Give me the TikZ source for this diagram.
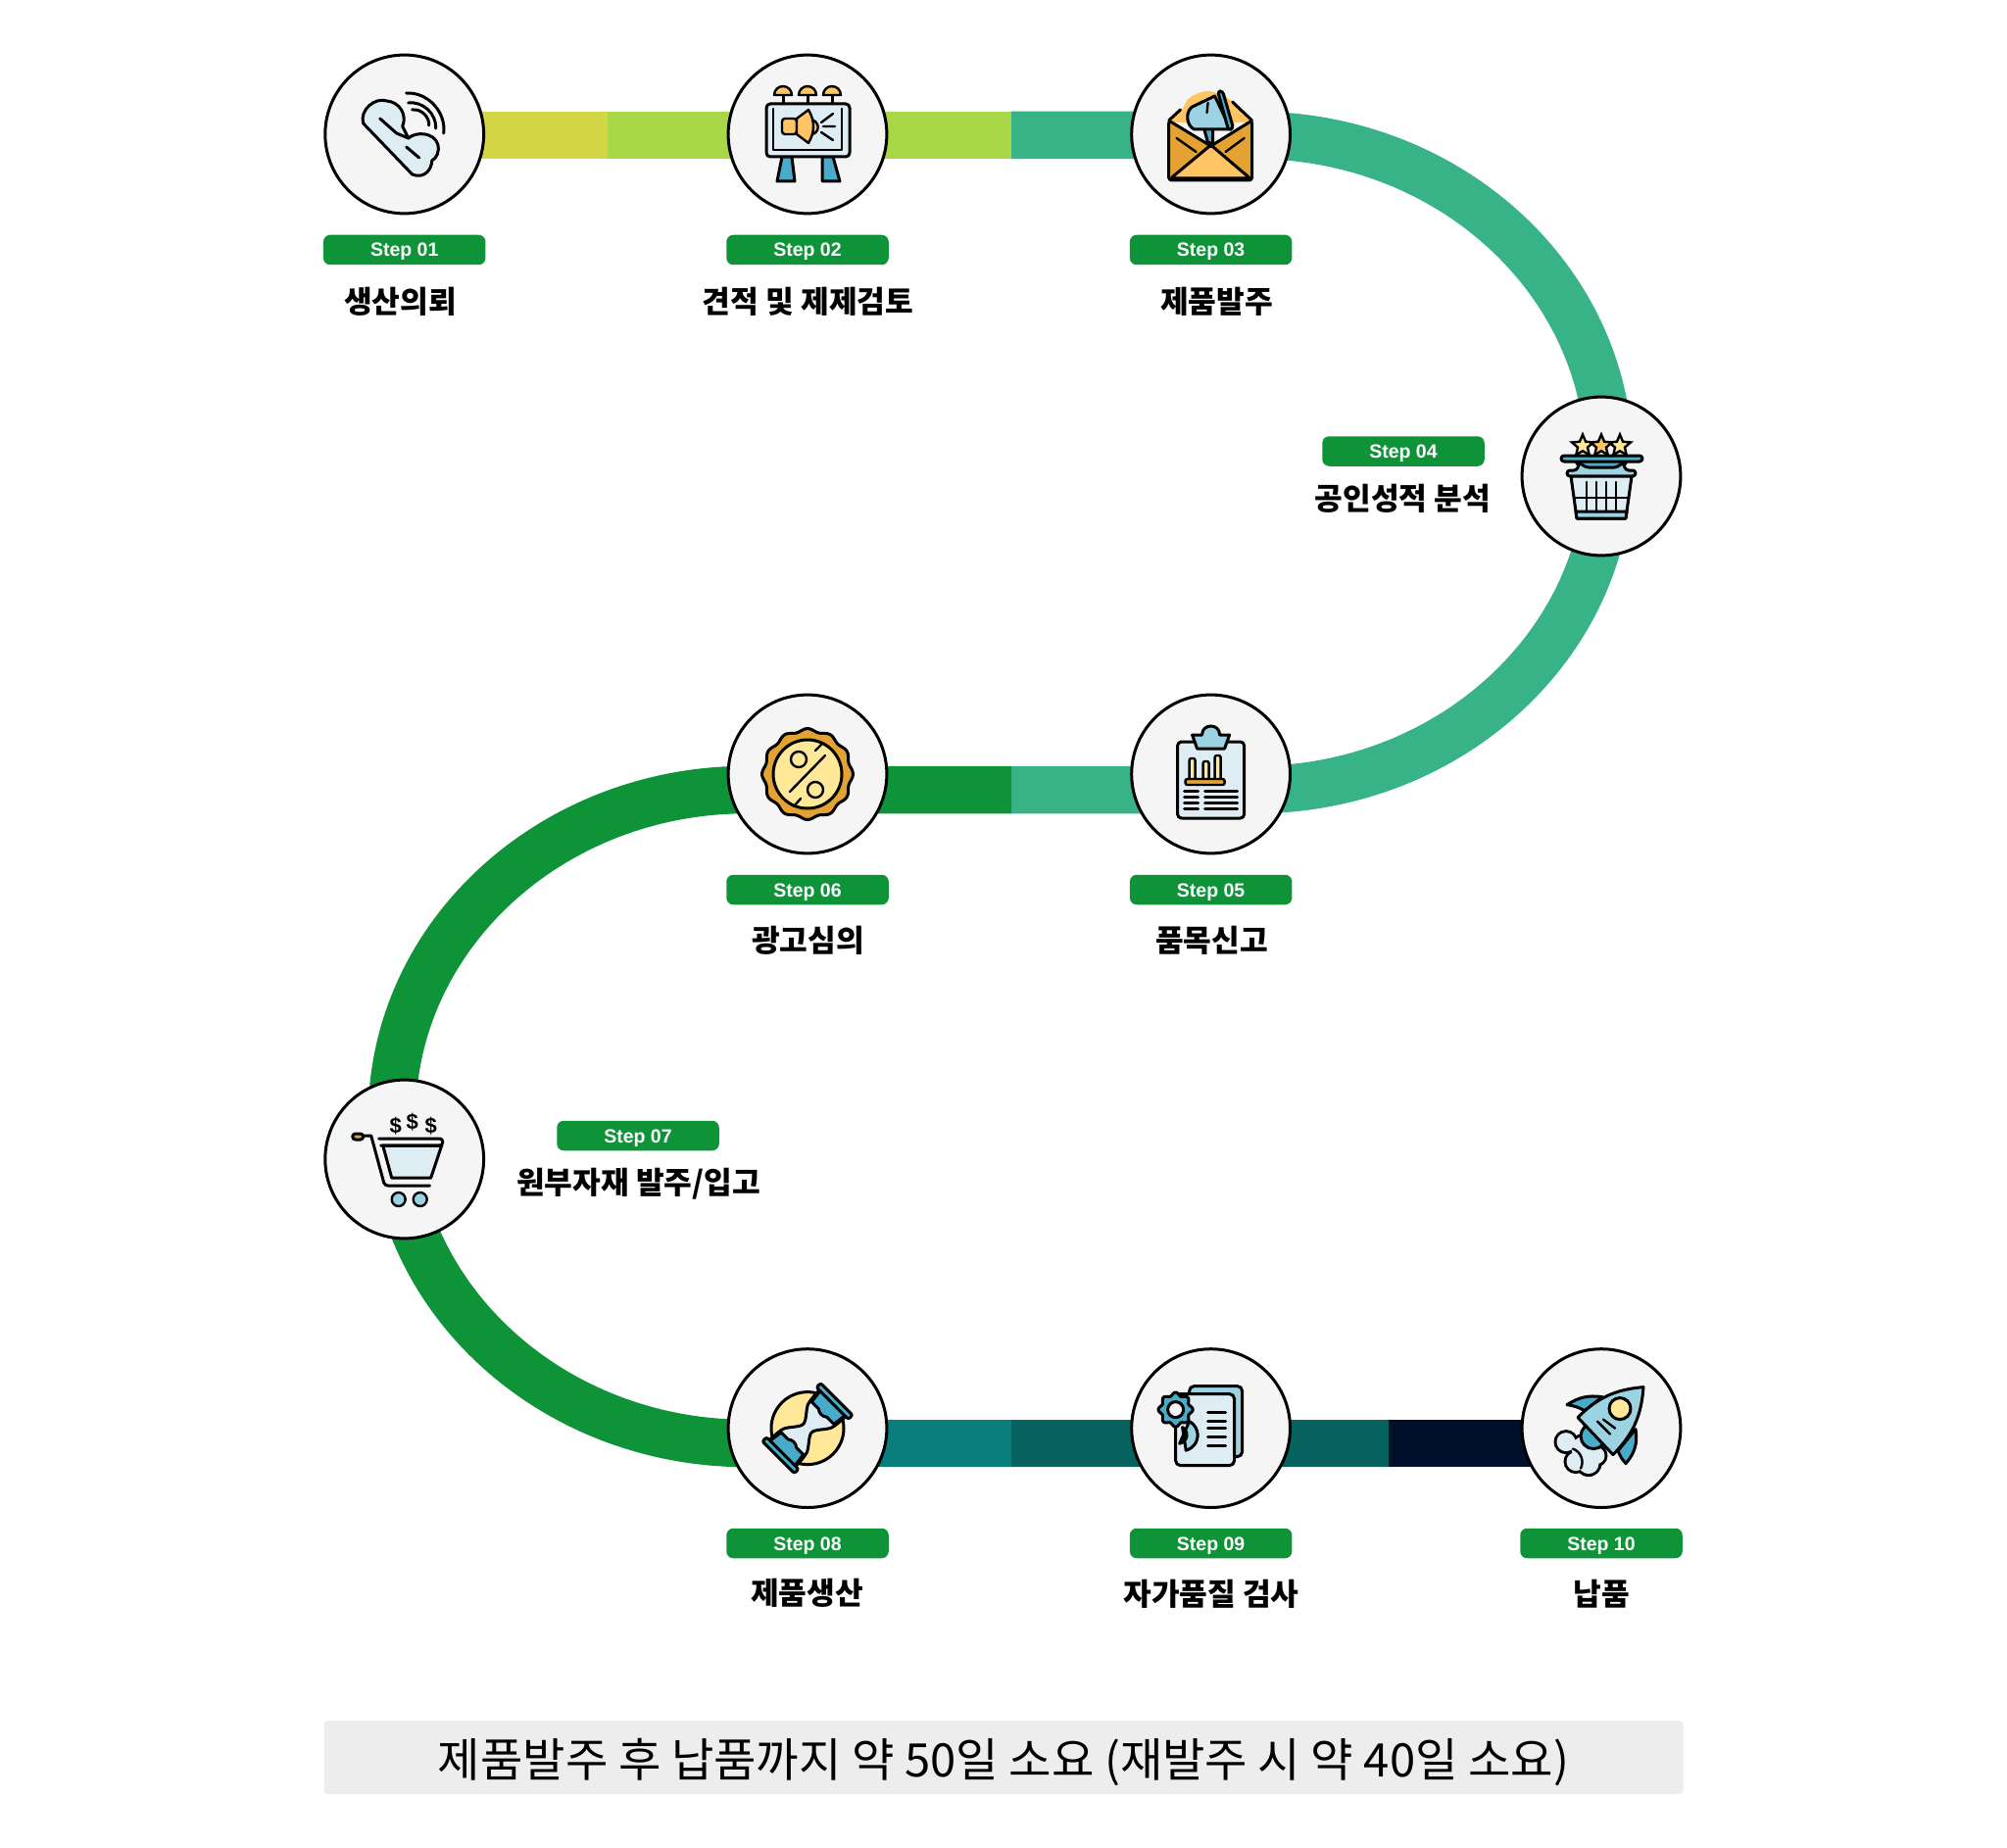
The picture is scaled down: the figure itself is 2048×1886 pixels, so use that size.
\documentclass[tikz,border=0pt]{standalone}
\usepackage{fontspec}
\setmainfont{Noto Sans CJK KR}
\newfontfamily\stepfont{Liberation Sans}
\usetikzlibrary{shapes.geometric}
\definecolor{bandyel}{HTML}{D3D647}
\definecolor{bandlime}{HTML}{A8D848}
\definecolor{bandmint}{HTML}{38B287}
\definecolor{bandgrn}{HTML}{0E9338}
\definecolor{bandtea}{HTML}{0A7D7D}
\definecolor{banddkt}{HTML}{05625F}
\definecolor{bandnav}{HTML}{000F2A}
\definecolor{lb}{HTML}{DEECF3}
\definecolor{mb}{HTML}{9BD3E3}
\definecolor{db}{HTML}{47ABC9}
\definecolor{og}{HTML}{FFC463}
\definecolor{dg}{HTML}{E3A231}
\definecolor{yl}{HTML}{FFE998}
\tikzset{
  band/.style={line width=48.5pt,draw=#1},
  stepcirc/.style={circle,draw=black,line width=3pt,fill=black!4,minimum size=161.8pt,inner sep=0pt},
  stepbox/.style={rounded corners=7pt,fill=bandgrn,text=white,minimum width=165.5pt,minimum height=30.5pt,inner sep=0pt,text height=14pt,text depth=0pt,font=\stepfont\fontsize{19.5}{21}\selectfont\bfseries},
  steplab/.style={inner sep=0pt,font=\fontsize{31.2}{33}\selectfont\bfseries},
  ic/.style={draw=black,line width=3pt,line join=round,line cap=round},
  thinic/.style={ic,line width=2.4pt},
  dollar/.style={inner sep=0pt,font=\stepfont\fontsize{22}{23}\selectfont\bfseries},
}
\begin{document}
\begin{tikzpicture}[x=1pt,y=1pt]
  \useasboundingbox (0,0) rectangle (2048,-1886);
  % band
  \coordinate (a1) at (413,-138);
  \coordinate (a2) at (620,-138);
  \coordinate (a3) at (1032,-138);
  \coordinate (a4) at (1280,-138);
  \coordinate (a6) at (1032,-806);
  \coordinate (a7) at (762,-806);
  \coordinate (a9) at (824,-1473);
  \coordinate (a10) at (1032,-1473);
  \coordinate (a11) at (1417,-1473);
  \coordinate (a12) at (1634,-1473);
  \draw[band=bandyel] (a1) -- (a2);
  \draw[band=bandlime] (a2) -- (a3);
  \draw[band=bandmint] (a3) -- (a4) arc[start angle=90,end angle=-90,x radius=362,y radius=334] -- (a6);
  \draw[band=bandgrn] (a6) -- (a7) arc[start angle=90,end angle=270,x radius=362,y radius=333.5] -- (a9);
  \draw[band=bandtea] (a9) -- (a10);
  \draw[band=banddkt] (a10) -- (a11);
  \draw[band=bandnav] (a11) -- (a12);
  % steps
  \foreach \n/\x/\y/\px/\py/\lx/\ly/\t in {
    01/412.7/137/412.7/255/408.5/307.8/{생산의뢰},
    02/824/137/824/255/824.5/307.8/{견적 및 제제검토},
    03/1235.6/137/1235.6/255/1241.5/307.8/{제품발주},
    04/1634/486/1432/460.5/1431.5/509/{공인성적 분석},
    05/1235.6/790/1235.6/908/1236.5/959.5/{품목신고},
    06/824/790/824/908/824.5/959.5/{광고심의},
    07/412.7/1183/651/1159/651.5/1208/{원부자재 발주/입고},
    08/824/1457.6/824/1575/823.5/1625.5/{제품생산},
    09/1235.6/1457.6/1235.6/1575/1236/1627/{자가품질 검사},
    10/1634/1457.6/1634/1575/1634.5/1627/{납품}}{
    \node[stepcirc] (c\n) at (\x,-\y) {};
    \node[stepbox] (s\n) at (\px,-\py) {Step \n};
    \node[steplab] (l\n) at (\lx,-\ly) {\t};
  }
  \node[fill=black!7,rounded corners=4pt,minimum width=1387pt,minimum height=75pt,inner sep=0pt,text height=39pt,text depth=0pt,font=\fontsize{47.2}{49}\selectfont] (note) at (1024,-1793.5) {제품발주 후 납품까지 약 50일 소요 (재발주 시 약 40일 소요)};
  % phone
  \begin{scope}[shift={(c01.center)}]
    \draw[ic,fill=lb] (-42,11) .. controls (-46,25) and (-30,38) .. (-18,34) .. controls (-5,33) and (3,20) .. (-2,8) -- (4,-4) .. controls (12,3) and (30,2) .. (34,-10) .. controls (36,-18) and (33,-24) .. (28,-27) .. controls (28,-36) and (20,-46) .. (8,-41) -- cycle;
    \draw[ic] (-25,16) -- (-8,1) -- (4,-4) (2,-13) -- (15,-24);
    \draw[ic] (2,42) to[bend left=50] (40,1) (4,32) to[bend left=50] (32,6) (8,25) to[bend left=50] (25,9);
  \end{scope}
  % billboard
  \begin{scope}[shift={(c02.center)}]
    \foreach \x in {-25,0,25}{
      \draw[ic] (\x,31) -- (\x,39);
      \draw[thinic,fill=og] (\x-9,40) arc[start angle=180,end angle=0,radius=9] -- cycle;
    }
    \draw[ic,fill=db] (-26,-23) -- (-31,-48) -- (-13,-48) -- (-16,-23) -- cycle;
    \draw[ic,fill=db] (15,-23) -- (15,-48) -- (33,-48) -- (26,-23) -- cycle;
    \draw[ic,fill=lb,rounded corners=4pt] (-42,31) rectangle (43,-23);
    \draw[thinic] (-35,26) -- (-35,-16) -- (35,-16) -- (35,26);
    \draw[thinic,fill=og] (1,16) .. controls (14,14) and (14,0) .. (1,-1);
    \draw[thinic,fill=og,rounded corners=3pt] (-26,16) rectangle (-11,0);
    \draw[thinic,fill=og] (-11,16) -- (1,25) to[bend left=30] (1,-9) -- (-11,0) -- cycle;
    \draw[thinic] (14,12) -- (26,21) (16,8) -- (28,8) (14,2) -- (26,-6);
  \end{scope}
  % envelope
  \begin{scope}[shift={(c03.center)}]
    \fill[og] plot[smooth,tension=.6] coordinates {(-43,12) (-30,24) (-22,37) (-2,44) (20,35) (30,24) (42,12)} -- cycle;
    \draw[ic,fill=dg,rounded corners=3pt] (-43,14) -- (-43,-47) -- (42,-47) -- (42,14) -- (0,-12) -- cycle;
    \draw[ic] (-43,14) -- (-31,25) (22,33) -- (42,14);
    \draw[ic,fill=db] (-7,6) -- (2,6) -- (2,-9) -- (-3,-9) -- cycle;
    \draw[ic,fill=mb] (4,39) -- (-19,28) to[bend right=60] (-17,5) -- (20,5) -- cycle;
    \draw[ic,fill=db,rounded corners=3pt] (7,44) -- (12,44) -- (23,6) -- (18,4) -- cycle;
    \draw[thinic] (-35,-4) -- (-15,-18) (34,-4) -- (15,-18) (-3,32) -- (-4,22);
    \draw[ic,fill=og,rounded corners=2pt] (-41,-45) -- (0,-11) -- (40,-45) -- cycle;
  \end{scope}
  % basket
  \begin{scope}[shift={(c04.center)}]
    \draw[ic,fill=db] (-28,18) -- (28,18) -- (20,6) -- (-20,6) -- cycle;
    \draw[ic,fill=db,rounded corners=3pt] (-41,21) rectangle (42,15);
    \draw[ic,fill=mb,rounded corners=3pt] (-35,6) -- (-25,6) -- (-22,14) -- (-16,9) -- (16,9) -- (22,14) -- (25,6) -- (35,6) -- (35,0) -- (-35,0) -- cycle;
    \draw[ic,fill=lb] (-31,0) -- (-25,-43) -- (25,-43) -- (31,0) -- cycle;
    \draw[ic,fill=mb] (-26,-36) -- (26,-36) -- (25,-43) -- (-25,-43) -- cycle;
    \foreach \x in {-15,-5,5,15}{\draw[thinic] (\x,-6) -- (\x,-36);}
    \draw[thinic] (-28,-22) -- (28,-22);
    \foreach \x/\c in {-19/yl,19/yl,0/og}{
      \node[star,star points=5,star point ratio=2.2,minimum size=23pt,inner sep=0pt,draw=black,line width=2.4pt,fill=\c] (st\x) at (\x,31) {};
    }
  \end{scope}
  % clipboard
  \begin{scope}[shift={(c05.center)}]
    \draw[ic,fill=lb,rounded corners=4pt] (-34,33) rectangle (34,-45);
    \draw[ic,fill=mb] (-19,40) -- (-9,40) .. controls (-9,52) and (9,52) .. (9,40) -- (19,40) -- (14,26) -- (-14,26) -- cycle;
    \foreach \x/\t in {-19/16,-5/13,7/19}{
      \draw[thinic,fill=yl,rounded corners=2pt] (\x-3,-5) -- (\x-3,\t) -- (\x+3,\t) -- (\x+3,-5);
    }
    \draw[thinic,fill=dg,rounded corners=2pt] (-26,-5) rectangle (14,-11);
    \foreach \y in {-17,-23,-29,-35}{
      \draw[ic] (-27,\y) -- (-13,\y) (-6,\y) -- (27,\y);
    }
  \end{scope}
  % percent badge
  \begin{scope}[shift={(c06.center)}]
    \draw[ic,fill=dg,smooth,domain=0:360,samples=120] plot (\x:{45+1.5*cos(12*\x)}) -- cycle;
    \draw[ic,fill=yl] (0,0) circle (35);
    \draw[thinic] (-18,-18) -- (18,19) (-14,-33) -- (-7,-25) (8,24) -- (15,31);
    \draw[thinic] (-9,15) circle (8) (8,-16) circle (8);
  \end{scope}
  % cart
  \begin{scope}[shift={(c07.center)}]
    \node[dollar] (dl1) at (-9,34) {\$};
    \node[dollar] (dl2) at (8,38) {\$};
    \node[dollar] (dl3) at (27,34) {\$};
    \draw[ic,fill=lb] (-22,14) -- (38,14) -- (27,-19) -- (-13,-19) -- cycle;
    \draw[ic] (-42,24) -- (-34,24) -- (-21,-24) to[bend right=30] (-17,-27) -- (26,-27);
    \draw[ic,rounded corners=3pt] (-26,21) -- (39,21) -- (39,14) -- (-24,14);
    \draw[ic,fill=dg,rounded corners=3pt] (-53,26) rectangle (-42,20);
    \draw[thinic,fill=mb] (-6,-41) circle (7) (16,-41) circle (7);
  \end{scope}
  % hourglass
  \begin{scope}[shift={(c08.center)}]
    \draw[ic,fill=yl] (0,0) circle (37);
    \begin{scope}[rotate=-45]
      \draw[ic,fill=lb] plot[smooth,tension=.5] coordinates {(-19,38) (-17,18) (-6,0) (-17,-18) (-19,-38)} -- plot[smooth,tension=.5] coordinates {(19,-38) (17,-18) (6,0) (17,18) (19,38)} -- cycle;
      \draw[ic,fill=db] (-18,37) -- (-16,22) -- (-6,22) to[bend right=40] (6,22) -- (16,22) -- (18,37) -- cycle;
      \draw[ic,fill=db] (-18,-37) -- (-16,-22) -- (-6,-22) to[bend left=40] (6,-22) -- (16,-22) -- (18,-37) -- cycle;
      \draw[ic,fill=db,rounded corners=2pt] (-23,36) rectangle (23,42);
      \draw[ic,fill=db,rounded corners=2pt] (-23,-36) rectangle (23,-42);
    \end{scope}
  \end{scope}
  % document gear
  \begin{scope}[shift={(c09.center)}]
    \draw[ic,fill=mb,rounded corners=5pt] (-22,43) rectangle (32,-29);
    \draw[ic,fill=lb,rounded corners=5pt] (-36,35) -- (24,35) -- (24,-38) -- (-36,-38) -- cycle;
    \draw[ic,fill=mb] (-22,7) arc[start angle=62,end angle=-75,radius=16] -- (-29,1) arc[start angle=60,end angle=-80,radius=9] -- cycle;
    \draw[ic,fill=db,domain=0:360,samples=120] plot ([shift={(-36,19)}]\x:{16+1.6*cos(8*\x)}) -- cycle;
    \draw[ic,fill=black!4] (-36,19) circle (8);
    \foreach \y in {16,7,0,-9,-18}{\draw[ic] (-3,\y) -- (15,\y);}
  \end{scope}
  % rocket
  \begin{scope}[shift={(c10.center)}]
    \fill[black] (-36,-14) circle (12.5) (-26,-34) circle (12.5) (-13,-36) circle (13.5) (-18,-21) circle (15.5) (-5,-28) circle (11.5);
    \fill[lb] (-36,-14) circle (9.5) (-26,-34) circle (9.5) (-13,-36) circle (10.5) (-18,-21) circle (12.5) (-5,-28) circle (8.5);
    \draw[thinic] (-29,-21) to[bend left=50] (-21,-41);
    \draw[ic,fill=db] (-8,-8) circle (13);
    \draw[ic,fill=db] (-35,24) to[bend left=20] (1,32) -- (-17,18) to[bend right=10] cycle;
    \draw[ic,fill=db] (35,-1) to[bend left=25] (25,-36) to[bend left=10] (17,-23) -- cycle;
    \draw[ic,fill=mb] (43,42) to[bend right=20] (-24,11) -- (12,-27) to[bend right=20] cycle;
    \draw[ic,fill=yl] (19,20) circle (11);
    \draw[thinic] (-4,7) -- (9,-6) (2,9) -- (14,0);
  \end{scope}
\end{tikzpicture}
\end{document}
